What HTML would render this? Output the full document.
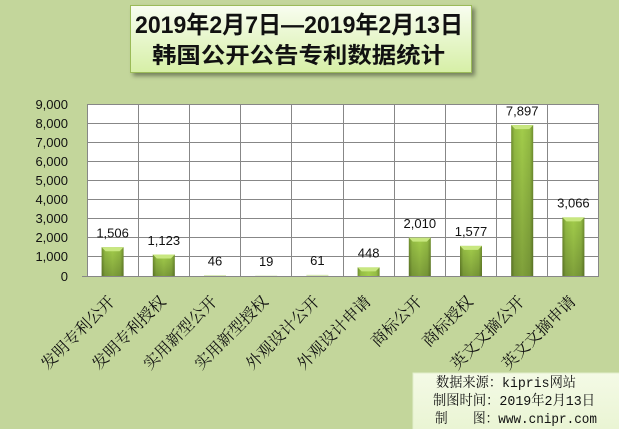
<!DOCTYPE html>
<html><head><meta charset="utf-8"><style>
html,body{margin:0;padding:0;background:#c3d69b;}
svg{display:block;}
</style></head><body>
<svg width="619" height="429" viewBox="0 0 619 429" xmlns="http://www.w3.org/2000/svg">
<defs>
<linearGradient id="tg" x1="0" y1="0" x2="0" y2="1"><stop offset="0" stop-color="#f8fdf0"/><stop offset="1" stop-color="#d6efa6"/></linearGradient>
<linearGradient id="fg" x1="0" y1="0" x2="0" y2="1"><stop offset="0" stop-color="#f4fae6"/><stop offset="1" stop-color="#e9f4d2"/></linearGradient>
<linearGradient id="bh" x1="0" y1="0" x2="1" y2="0"><stop offset="0" stop-color="#6f8e2e"/><stop offset="0.15" stop-color="#94bc44"/><stop offset="0.5" stop-color="#a3cd4b"/><stop offset="0.85" stop-color="#94bc44"/><stop offset="1" stop-color="#6f8e2e"/></linearGradient>
<linearGradient id="bv" x1="0" y1="0" x2="0" y2="1"><stop offset="0" stop-color="#000" stop-opacity="0"/><stop offset="1" stop-color="#000" stop-opacity="0.22"/></linearGradient>
<filter id="sh" x="-5%" y="-10%" width="115%" height="130%"><feDropShadow dx="3" dy="3" stdDeviation="2" flood-color="#000" flood-opacity="0.4"/></filter>
</defs>
<rect width="619" height="429" fill="#c3d69b"/>

<!-- title -->
<rect x="130.5" y="5.5" width="341" height="67" fill="url(#tg)" stroke="#9bbb59" stroke-width="1" filter="url(#sh)"/>
<text x="135" y="33" textLength="328" lengthAdjust="spacingAndGlyphs" font-family="Liberation Sans, Noto Sans CJK SC, sans-serif" font-weight="bold" font-size="24" fill="#111">2019年2月7日—2019年2月13日</text>
<text x="152" y="63" textLength="293" lengthAdjust="spacingAndGlyphs" font-family="Noto Sans CJK SC, sans-serif" font-weight="bold" font-size="22" fill="#111">韩国公开公告专利数据统计</text>

<!-- plot area -->
<rect x="87" y="104" width="512" height="172" fill="#ffffff"/>
<g stroke="#878787" stroke-width="1" fill="none" shape-rendering="crispEdges">
<line x1="87" y1="104.5" x2="599" y2="104.5"/>
<line x1="87" y1="123.5" x2="599" y2="123.5"/>
<line x1="87" y1="142.5" x2="599" y2="142.5"/>
<line x1="87" y1="161.5" x2="599" y2="161.5"/>
<line x1="87" y1="180.5" x2="599" y2="180.5"/>
<line x1="87" y1="199.5" x2="599" y2="199.5"/>
<line x1="87" y1="218.5" x2="599" y2="218.5"/>
<line x1="87" y1="237.5" x2="599" y2="237.5"/>
<line x1="87" y1="256.5" x2="599" y2="256.5"/>
<line x1="82" y1="276.5" x2="599" y2="276.5"/>
<line x1="87.5" y1="104" x2="87.5" y2="277"/>
<line x1="138.5" y1="104" x2="138.5" y2="277"/>
<line x1="189.5" y1="104" x2="189.5" y2="277"/>
<line x1="240.5" y1="104" x2="240.5" y2="277"/>
<line x1="291.5" y1="104" x2="291.5" y2="277"/>
<line x1="343.5" y1="104" x2="343.5" y2="277"/>
<line x1="394.5" y1="104" x2="394.5" y2="277"/>
<line x1="445.5" y1="104" x2="445.5" y2="277"/>
<line x1="496.5" y1="104" x2="496.5" y2="277"/>
<line x1="547.5" y1="104" x2="547.5" y2="277"/>
<line x1="598.5" y1="104" x2="598.5" y2="277"/>
</g>

<!-- y labels -->
<g font-family="Liberation Sans, sans-serif" font-size="13" fill="#111" text-anchor="end">
<text x="68" y="109">9,000</text>
<text x="68" y="128">8,000</text>
<text x="68" y="147">7,000</text>
<text x="68" y="166">6,000</text>
<text x="68" y="185">5,000</text>
<text x="68" y="204">4,000</text>
<text x="68" y="223">3,000</text>
<text x="68" y="242">2,000</text>
<text x="68" y="261">1,000</text>
<text x="68" y="281">0</text>
</g>

<!-- bars -->
<g>
<rect x="101.6" y="247.2" width="22" height="28.8" fill="url(#bh)"/><rect x="101.6" y="247.2" width="22" height="28.8" fill="url(#bv)"/><polygon points="101.6,247.2 123.6,247.2 119.6,251.2 105.6,251.2" fill="#c8e780"/>
<rect x="152.8" y="254.5" width="22" height="21.5" fill="url(#bh)"/><rect x="152.8" y="254.5" width="22" height="21.5" fill="url(#bv)"/><polygon points="152.8,254.5 174.8,254.5 170.8,258.5 156.8,258.5" fill="#c8e780"/>
<rect x="204" y="275.1" width="22" height="0.9" fill="#d6e8b4"/>
<rect x="255.2" y="275.6" width="22" height="0.4" fill="#d6e8b4"/>
<rect x="306.4" y="274.8" width="22" height="1.2" fill="#d6e8b4"/>
<rect x="357.6" y="267.4" width="22" height="8.6" fill="url(#bh)"/><polygon points="357.6,267.4 379.6,267.4 375.6,271.4 361.6,271.4" fill="#c8e780"/>
<rect x="408.8" y="237.6" width="22" height="38.4" fill="url(#bh)"/><rect x="408.8" y="237.6" width="22" height="38.4" fill="url(#bv)"/><polygon points="408.8,237.6 430.8,237.6 426.8,241.6 412.8,241.6" fill="#c8e780"/>
<rect x="460" y="245.9" width="22" height="30.1" fill="url(#bh)"/><rect x="460" y="245.9" width="22" height="30.1" fill="url(#bv)"/><polygon points="460,245.9 482,245.9 478,249.9 464,249.9" fill="#c8e780"/>
<rect x="511.2" y="125.1" width="22" height="150.9" fill="url(#bh)"/><rect x="511.2" y="125.1" width="22" height="150.9" fill="url(#bv)"/><polygon points="511.2,125.1 533.2,125.1 529.2,129.1 515.2,129.1" fill="#c8e780"/>
<rect x="562.4" y="217.4" width="22" height="58.6" fill="url(#bh)"/><rect x="562.4" y="217.4" width="22" height="58.6" fill="url(#bv)"/><polygon points="562.4,217.4 584.4,217.4 580.4,221.4 566.4,221.4" fill="#c8e780"/>
</g>

<!-- data labels -->
<g font-family="Liberation Sans, sans-serif" font-size="13" fill="#111" text-anchor="middle">
<text x="112.6" y="237.5">1,506</text>
<text x="163.8" y="244.8">1,123</text>
<text x="215" y="265.3">46</text>
<text x="266.2" y="265.8">19</text>
<text x="317.4" y="265">61</text>
<text x="368.6" y="257.4">448</text>
<text x="419.8" y="227.8">2,010</text>
<text x="471" y="236">1,577</text>
<text x="522.2" y="115.3">7,897</text>
<text x="573.4" y="207.6">3,066</text>
</g>

<!-- category labels -->
<g font-family="Noto Serif CJK SC, Liberation Serif, serif" font-size="16" fill="#111" text-anchor="end">
<text transform="translate(115.6,302.5) rotate(-45)">发明专利公开</text>
<text transform="translate(166.8,302.5) rotate(-45)">发明专利授权</text>
<text transform="translate(218,302.5) rotate(-45)">实用新型公开</text>
<text transform="translate(269.2,302.5) rotate(-45)">实用新型授权</text>
<text transform="translate(320.4,302.5) rotate(-45)">外观设计公开</text>
<text transform="translate(371.6,302.5) rotate(-45)">外观设计申请</text>
<text transform="translate(422.8,302.5) rotate(-45)">商标公开</text>
<text transform="translate(474,302.5) rotate(-45)">商标授权</text>
<text transform="translate(525.2,302.5) rotate(-45)">英文文摘公开</text>
<text transform="translate(576.4,302.5) rotate(-45)">英文文摘申请</text>
</g>

<!-- footnote -->
<rect x="413" y="373" width="210" height="60" fill="url(#fg)" stroke="#e2efcb" stroke-width="1"/>
<g font-family="Liberation Mono, Noto Serif CJK SC, monospace" font-size="14" fill="#111">
<text x="436" y="387" textLength="140" lengthAdjust="spacingAndGlyphs">数据来源：kipris网站</text>
<text x="433" y="405" textLength="162" lengthAdjust="spacingAndGlyphs">制图时间：2019年2月13日</text>
<text x="435" y="423" textLength="162" lengthAdjust="spacingAndGlyphs">制　　图：www.cnipr.com</text>
</g>
</svg>
</body></html>
